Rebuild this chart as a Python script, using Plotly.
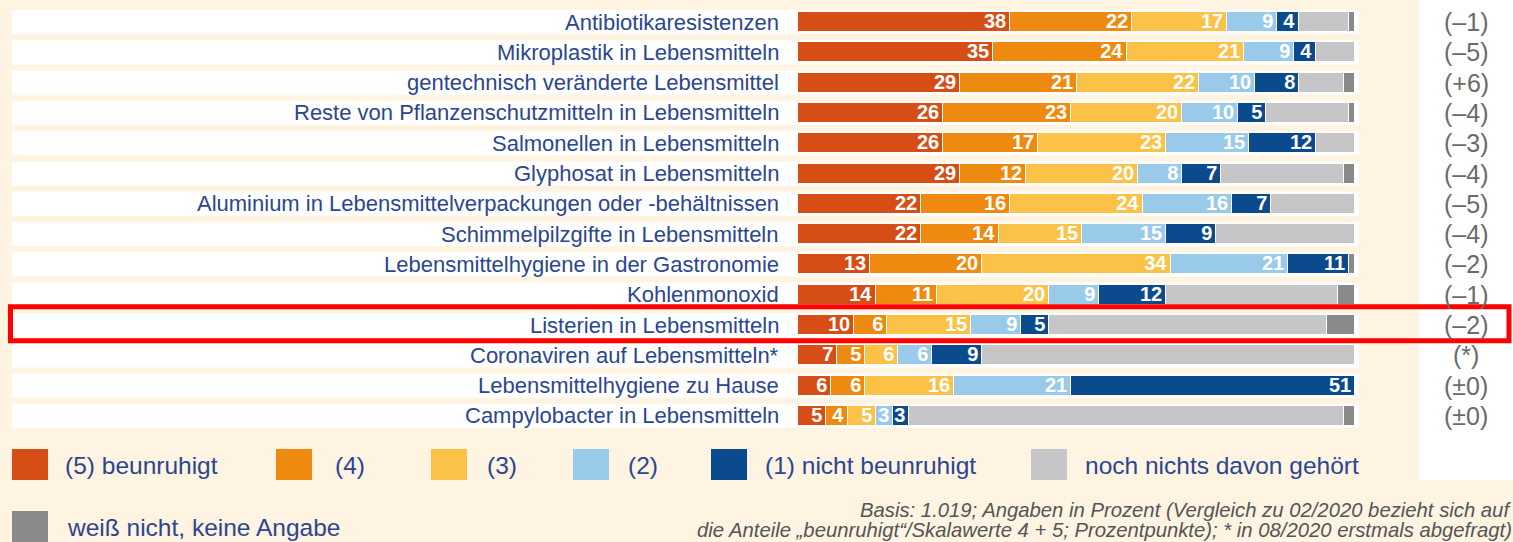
import plotly.graph_objects as go

# ---------------- data ----------------
categories = [
    "Antibiotikaresistenzen",
    "Mikroplastik in Lebensmitteln",
    "gentechnisch veränderte Lebensmittel",
    "Reste von Pflanzenschutzmitteln in Lebensmitteln",
    "Salmonellen in Lebensmitteln",
    "Glyphosat in Lebensmitteln",
    "Aluminium in Lebensmittelverpackungen oder -behältnissen",
    "Schimmelpilzgifte in Lebensmitteln",
    "Lebensmittelhygiene in der Gastronomie",
    "Kohlenmonoxid",
    "Listerien in Lebensmitteln",
    "Coronaviren auf Lebensmitteln*",
    "Lebensmittelhygiene zu Hause",
    "Campylobacter in Lebensmitteln",
]
s5_beunruhigt = [38, 35, 29, 26, 26, 29, 22, 22, 13, 14, 10, 7, 6, 5]
s4 = [22, 24, 21, 23, 17, 12, 16, 14, 20, 11, 6, 5, 6, 4]
s3 = [17, 21, 22, 20, 23, 20, 24, 15, 34, 20, 15, 6, 16, 5]
s2 = [9, 9, 10, 10, 15, 8, 16, 15, 21, 9, 9, 6, 21, 3]
s1_nicht = [4, 4, 8, 5, 12, 7, 7, 9, 11, 12, 5, 9, 51, 3]
noch_nichts = [9, 7, 8, 15, 7, 22, 15, 25, 0, 31, 50, 67, 0, 78]
weiss_nicht = [1, 0, 2, 1, 0, 2, 0, 0, 1, 3, 5, 0, 0, 2]
changes = ["(–1)", "(–5)", "(+6)", "(–4)", "(–3)", "(–4)", "(–5)", "(–4)",
           "(–2)", "(–1)", "(–2)", "(*)", "(±0)", "(±0)"]
series_names = ["(5) beunruhigt", "(4)", "(3)", "(2)", "(1) nicht beunruhigt",
                "noch nichts davon gehört", "weiß nicht, keine Angabe"]
highlight_category = "Listerien in Lebensmitteln"

# ---------------- styles ----------------
W, H = 1513, 542
colors = ["#D64E16", "#EF8A10", "#FBC247", "#9ACAEA", "#0B4A8C", "#C6C6C8", "#8A8A8A"]
show_text = [True, True, True, True, True, False, False]
label_color = "#2B4690"
bg = "#FFF3E2"
FONT = "Liberation Sans"

ROW0, ROWSTEP = 22.0, 30.3


def pxx(x):
    return x / W


def pxy(y):
    return 1 - y / H


series = [s5_beunruhigt, s4, s3, s2, s1_nicht, noch_nichts, weiss_nicht]
idx = list(range(len(categories)))

fig = go.Figure()
for name, vals, col, st in zip(series_names, series, colors, show_text):
    fig.add_trace(go.Bar(
        y=idx, x=vals, orientation="h", name=name,
        width=0.66,
        marker=dict(color=col, line=dict(color="white", width=1.5)),
        text=[str(v) if (st and v > 0) else "" for v in vals],
        textposition="inside", insidetextanchor="end",
        constraintext="none", textangle=0,
        textfont=dict(family=FONT, size=20, color="white", weight="bold"),
        hoverinfo="skip", showlegend=False,
    ))

shapes = []
annotations = []

# white right column
shapes.append(dict(type="rect", xref="paper", yref="paper",
                   x0=pxx(1419), x1=1.0, y0=pxy(480), y1=1.0,
                   fillcolor="white", line=dict(width=0), layer="below"))
# white row bands
for i in idx:
    shapes.append(dict(type="rect", xref="paper", yref="y",
                       x0=pxx(12), x1=pxx(1359), y0=i - 0.4, y1=i + 0.4,
                       fillcolor="white", line=dict(width=0), layer="below"))

for i, (c, ch) in enumerate(zip(categories, changes)):
    annotations.append(dict(xref="paper", yref="y", x=pxx(781), y=i,
                            text=c, showarrow=False, xanchor="right", yanchor="middle",
                            font=dict(family=FONT, size=22, color=label_color)))
    annotations.append(dict(xref="paper", yref="y", x=pxx(1466), y=i,
                            text=ch, showarrow=False, xanchor="center", yanchor="middle",
                            font=dict(family=FONT, size=25, color="#6A6A6A")))

# highlight rectangle
hi = categories.index(highlight_category)
shapes.append(dict(type="rect", xref="paper", yref="y",
                   x0=pxx(10.5), x1=pxx(1509), y0=hi - 0.6, y1=hi + 0.52,
                   fillcolor="rgba(0,0,0,0)", line=dict(color="#FF0000", width=5),
                   layer="above"))

# legend (squares + text)
leg_sq_x = [12, 276, 431, 573, 711, 1031, 12]
leg_tx_x = [63, 333, 485, 626, 763, 1083, 65]
leg_y = [465, 465, 465, 465, 465, 465, 527]
for name, col, sx, tx, ly in zip(series_names, colors, leg_sq_x, leg_tx_x, leg_y):
    shapes.append(dict(type="rect", xref="paper", yref="paper",
                       x0=pxx(sx), x1=pxx(sx + 36), y0=pxy(ly + 15), y1=pxy(ly - 16),
                       fillcolor=col, line=dict(width=0)))
    annotations.append(dict(xref="paper", yref="paper", x=pxx(tx), y=pxy(ly),
                            text=name, showarrow=False, xanchor="left", yanchor="middle",
                            font=dict(family=FONT, size=24.5, color=label_color)))

# footnote
annotations.append(dict(xref="paper", yref="paper", x=pxx(858), y=pxy(510),
                        text="<i>Basis: 1.019; Angaben in Prozent (Vergleich zu 02/2020 bezieht sich auf</i>",
                        showarrow=False, xanchor="left", yanchor="middle",
                        font=dict(family=FONT, size=20.3, color="#555555")))
annotations.append(dict(xref="paper", yref="paper", x=pxx(695), y=pxy(530),
                        text="<i>die Anteile „beunruhigt“/Skalawerte 4 + 5; Prozentpunkte); * in 08/2020 erstmals abgefragt)</i>",
                        showarrow=False, xanchor="left", yanchor="middle",
                        font=dict(family=FONT, size=20.3, color="#555555")))

y_top = (0 - ROW0) / ROWSTEP
y_bot = (H - ROW0) / ROWSTEP

fig.update_layout(
    width=W, height=H,
    margin=dict(l=0, r=0, t=0, b=0),
    paper_bgcolor=bg, plot_bgcolor="rgba(0,0,0,0)",
    barmode="stack", bargap=0,
    xaxis=dict(domain=[pxx(798), pxx(1355)], range=[0, 100], visible=False, fixedrange=True),
    yaxis=dict(domain=[0, 1], range=[y_bot, y_top], visible=False, fixedrange=True),
    shapes=shapes, annotations=annotations,
    showlegend=False,
)

fig.write_html("out.html", config={"displayModeBar": False},
               post_script="document.body.style.margin='0';document.body.style.overflow='hidden';")
